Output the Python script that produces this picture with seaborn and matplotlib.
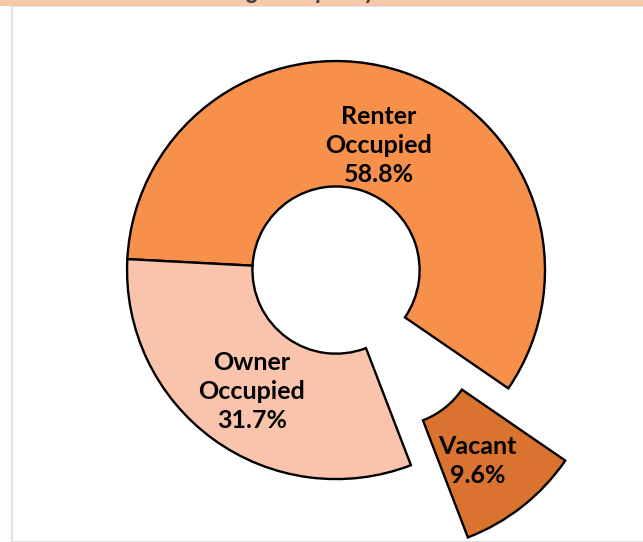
import numpy as np
import matplotlib
matplotlib.use("Agg")
import matplotlib.pyplot as plt
import seaborn as sns

# data
categories = ["Renter\nOccupied", "Vacant", "Owner\nOccupied"]
shares = [58.8, 9.6, 31.7]
colors = ["#F6904A", "#DA7330", "#F9C4AB"]
explode = [0.0, 0.44, 0.0]

sns.set_style("white")
plt.rcParams["font.family"] = ["Lato", "DejaVu Sans"]

fig = plt.figure(figsize=(6.43, 5.42), dpi=100)
fig.patch.set_facecolor("#FDFDFD")

# panel + top title strip (cropped like the source)
fig.add_artist(plt.Rectangle((0.018, 0), 0.99, 0.989, transform=fig.transFigure,
                             facecolor="white", edgecolor="#DADDE3", lw=1.2, zorder=-5))
fig.add_artist(plt.Rectangle((0, 0.989), 1, 0.02, transform=fig.transFigure,
                             facecolor="#F8C9A9", edgecolor="none", zorder=-4))
fig.text(0.43, 1.016, "Housing Occupancy", ha="center", va="center",
         fontsize=17, fontstyle="italic", fontweight="bold", color="#404040")

ax = fig.add_axes([0, 0, 1, 1])
ax.set_zorder(2)
ax.set_facecolor("none")
wedges, _ = ax.pie(shares, colors=colors, explode=explode, startangle=177,
                   counterclock=False, radius=1.0,
                   wedgeprops=dict(width=0.60, edgecolor="black", linewidth=1.7))

# labels centered in each ring segment
for w, name, val in zip(wedges, categories, shares):
    mid = np.deg2rad((w.theta1 + w.theta2) / 2)
    cx, cy = w.center
    r = 0.67
    ax.text(cx + r * np.cos(mid) - 0.01, cy + r * np.sin(mid) - 0.04, f"{name}\n{val}%",
            ha="center", va="center", fontsize=18, fontweight="bold",
            color="black", linespacing=1.32)

ax.set_aspect("auto")
ax.set_xlim(-1.608, 1.469)
ax.set_ylim(-1.301, 1.292)
ax.axis("off")

fig.savefig("out.png", dpi=100, facecolor=fig.get_facecolor())
